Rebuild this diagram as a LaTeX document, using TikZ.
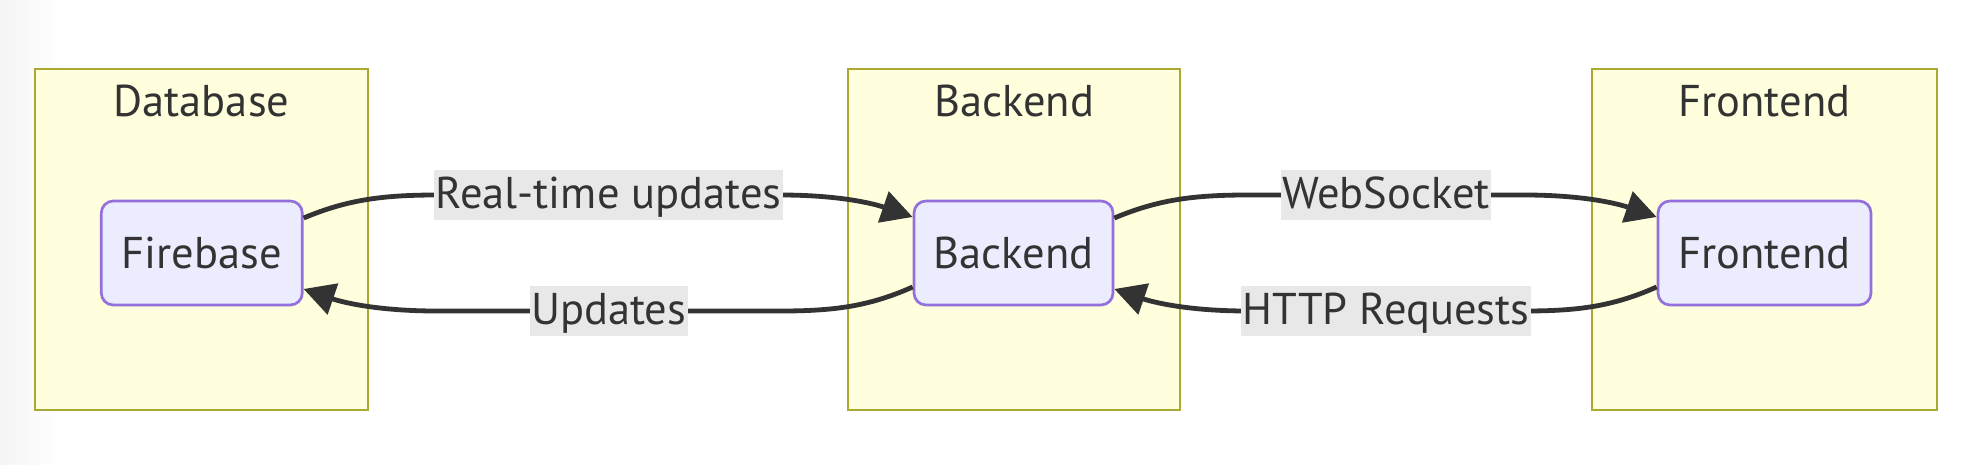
\documentclass[tikz,border=0pt]{standalone}
\usepackage{fontspec}
\setmainfont{PT Sans}
\usetikzlibrary{arrows.meta,calc}
\definecolor{txt}{HTML}{333333}
\definecolor{clusterline}{HTML}{AAAA33}
\definecolor{clusterfill}{HTML}{FFFFDE}
\definecolor{nodeline}{HTML}{9370DB}
\definecolor{nodefill}{HTML}{ECECFF}
\definecolor{labelbg}{HTML}{E8E8E8}
\begin{document}
\begin{tikzpicture}[x=1pt,y=-1pt,
  every node/.style={text=txt, font=\fontsize{44.5}{52}\selectfont},
  cluster/.style={draw=clusterline, fill=clusterfill, line width=2.9pt,
    minimum width=#1, minimum height=341pt, inner sep=0pt},
  title/.style={anchor=base, inner sep=0pt},
  proc/.style={draw=nodeline, fill=nodefill, line width=2.7pt, rounded corners=12pt,
    minimum width=#1, minimum height=104pt, inner sep=0pt,
    text height=38pt, text depth=8pt},
  edge/.style={draw=txt, line width=4.8pt},
  tip/.style={-{Triangle[length=31pt,width=32pt]}},
  elabel/.style={fill=labelbg, inner xsep=1.5pt, inner ysep=3.5pt,
    text height=35pt, text depth=8pt}]
\useasboundingbox (0,0) rectangle (1962,464);
\fill[white] (0,0) rectangle (1962,464);
\shade[left color=black!4, right color=white] (0,0) rectangle (60,464);

% clusters
\node[cluster=333pt] (cdb) at (201.5,239.5) {};
\node[cluster=332pt] (cbe) at (1014,239.5) {};
\node[cluster=345pt] (cfe) at (1764.5,239.5) {};
\node[title] (tdb) at (201.5,116) {Database};
\node[title] (tbe) at (1014,116) {Backend};
\node[title] (tfe) at (1764.5,116) {Frontend};

% nodes
\node[proc=201pt] (fb) at (201.8,253) {Firebase};
\node[proc=199pt] (be) at (1013.5,253) {Backend};
\node[proc=213pt] (fe) at (1764.5,253) {Frontend};

% edges
\draw[edge,tip] ([yshift=35pt]fb.east)
  .. controls +(43,-18) and +(-55,0) .. ($(fb.east)+(133,-58)$)
  -- node[elabel]{Real-time updates} ($(be.west)+(-132,-58)$)
  .. controls +(60,0) and +(-38,-13) .. ([yshift=36pt]be.west);
\draw[edge,tip] ([yshift=-34pt]be.west)
  .. controls +(-43,19) and +(55,0) .. ($(be.west)+(-132,58)$)
  -- node[elabel]{Updates} ($(fb.east)+(133,58)$)
  .. controls +(-60,0) and +(38,13) .. ([yshift=-36pt]fb.east);
\draw[edge,tip] ([yshift=35pt]be.east)
  .. controls +(43,-18) and +(-55,0) .. ($(be.east)+(133,-58)$)
  -- node[elabel]{WebSocket} ($(fe.west)+(-132,-58)$)
  .. controls +(60,0) and +(-38,-13) .. ([yshift=36pt]fe.west);
\draw[edge,tip] ([yshift=-34pt]fe.west)
  .. controls +(-43,19) and +(55,0) .. ($(fe.west)+(-132,58)$)
  -- node[elabel]{HTTP Requests} ($(be.east)+(133,58)$)
  .. controls +(-60,0) and +(38,13) .. ([yshift=-36pt]be.east);
\end{tikzpicture}
\end{document}
